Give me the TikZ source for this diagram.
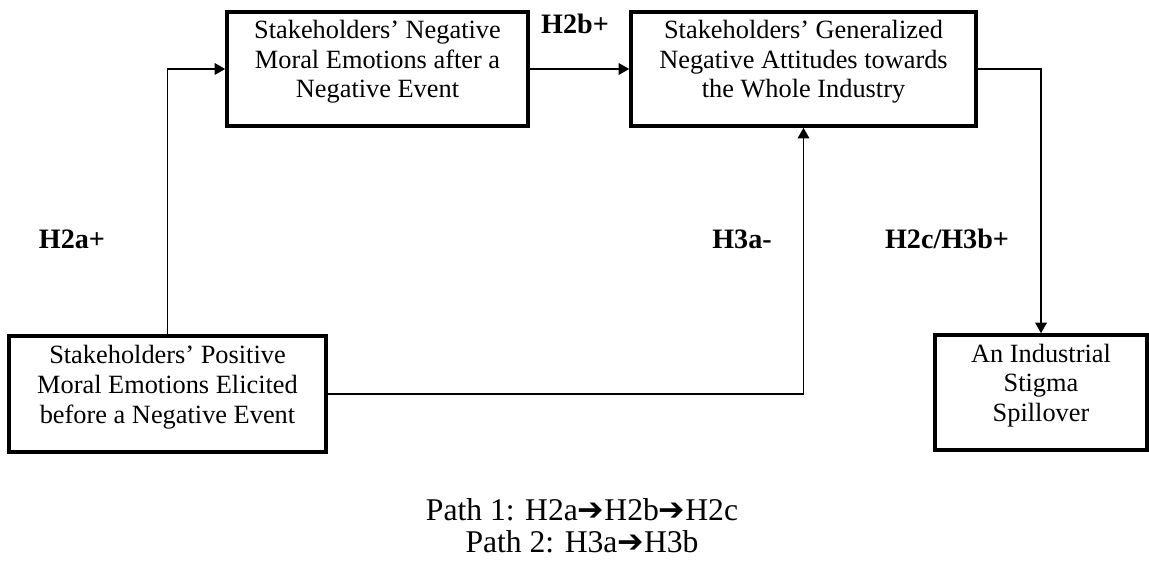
\documentclass[tikz,border=0pt]{standalone}
\usepackage{fontspec}
\setmainfont{Liberation Serif}
\newfontfamily\arrowfont{DejaVu Sans}
\usetikzlibrary{arrows.meta}
\tikzset{
  box/.style={draw, line width=2pt, align=center, inner sep=0pt, text depth=11pt, font=\fontsize{15}{16.8}\selectfont},
  link/.style={line width=1pt, -{Triangle[length=6pt,width=6.5pt]}},
  hyp/.style={font=\fontsize{16}{18}\selectfont\bfseries}
}
\newcommand{\pathto}{{\arrowfont ➔}}

\begin{document}
\begin{tikzpicture}
    \useasboundingbox (0,0) rectangle (22.98,11.34);

    % Boxes
    \node[box, minimum width=6.02cm, minimum height=2.28cm] (negemo) at (7.55,9.96) {Stakeholders’ Negative\\Moral Emotions after a\\Negative Event};
    \node[box, minimum width=6.9cm, minimum height=2.28cm] (attitude) at (16.07,9.96) {Stakeholders’ Generalized\\Negative Attitudes towards\\the Whole Industry};
    \node[box, minimum width=6.34cm, minimum height=2.32cm] (posemo) at (3.35,3.46) {Stakeholders’ Positive\\Moral Emotions Elicited\\before a Negative Event};
    \node[box, minimum width=4.24cm, minimum height=2.3cm] (stigma) at (20.82,3.49) {An Industrial\\Stigma\\Spillover};

    % Arrows
    \draw[link] (negemo) -- (attitude);
    \draw[link] (posemo.north) |- (negemo.west);
    \draw[link] (posemo.east) -| (attitude.south);
    \draw[link] (attitude.east) -| (stigma.north);

    % Hypothesis labels
    \node[hyp] (h2b) at (11.50,10.86) {H2b+};
    \node[hyp] (h2a) at (1.44,6.56) {H2a+};
    \node[hyp] (h3a) at (14.84,6.56) {H3a-};
    \node[hyp] (h2c) at (18.94,6.56) {H2c/H3b+};

    % Paths
    \node[align=center, font=\fontsize{18}{18}\selectfont] (paths) at (11.64,0.83) {Path 1: H2a\pathto H2b\pathto H2c\\Path 2: H3a\pathto H3b};

\end{tikzpicture}
\end{document}
